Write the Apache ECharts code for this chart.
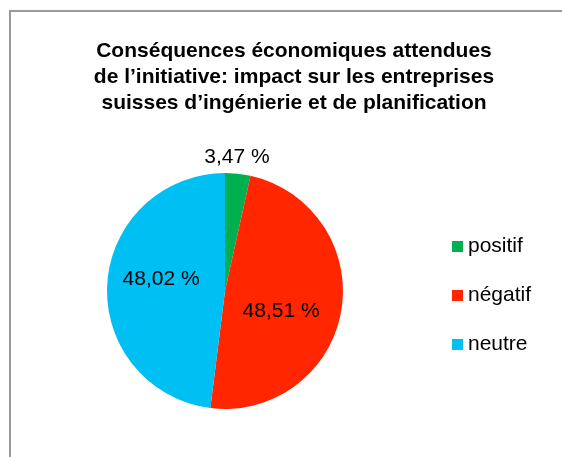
<!DOCTYPE html>
<html>
<head>
<meta charset="utf-8">
<script src="https://cdn.jsdelivr.net/npm/echarts@6/dist/echarts.min.js"></script>
<style>
  html, body { margin: 0; padding: 0; background: #fff; }
  #chart { width: 562px; height: 457px; }
</style>
</head>
<body>
<div id="chart"></div>
<script>
const categories = ['positif', 'négatif', 'neutre'];
const values = [3.47, 48.51, 48.02];
const colors = ['#00B050', '#FF2600', '#00BFF3'];
// small nudges so the value labels sit where the original places them
const labelOffsets = [[-39, -13], [-5, 10], [-2, -8]];

const chart = echarts.init(document.getElementById('chart'));

const fmt = (v) => v.toFixed(2).replace('.', ',') + ' %';

const data = categories.map((name, i) => {
  const item = { name: name, value: values[i], itemStyle: { color: colors[i] } };
  if (i === 0) {
    item.label = { position: 'outside', distance: 5, offset: labelOffsets[i] };
    item.labelLine = { show: false, length: 4, length2: 0 };
  } else {
    item.label = { position: 'inside', offset: labelOffsets[i] };
  }
  return item;
});

chart.setOption({
  animation: false,
  graphic: [{
    type: 'rect',
    shape: { x: 10, y: 11, width: 600, height: 500 },
    style: { fill: 'none', stroke: '#999', lineWidth: 2 }
  }],
  title: {
    text: 'Conséquences économiques attendues\nde l’initiative: impact sur les entreprises\nsuisses d’ingénierie et de planification',
    left: 289,
    top: 33,
    textAlign: 'center',
    textStyle: {
      fontFamily: 'Liberation Sans, Arial, sans-serif',
      fontSize: 21,
      fontWeight: 'bold',
      lineHeight: 26,
      color: '#000'
    }
  },
  legend: {
    orient: 'vertical',
    left: 447,
    top: 231,
    icon: 'rect',
    itemWidth: 11,
    itemHeight: 11,
    itemGap: 28,
    textStyle: { fontFamily: 'Liberation Sans, Arial, sans-serif', fontSize: 21, color: '#000' },
    data: categories
  },
  series: [{
    type: 'pie',
    center: [225, 291],
    radius: 118,
    startAngle: 90,
    clockwise: true,
    avoidLabelOverlap: false,
    label: {
      formatter: (p) => fmt(p.value),
      fontFamily: 'Liberation Sans, Arial, sans-serif',
      fontSize: 21,
      color: '#000'
    },
    labelLine: { show: false },
    emphasis: { disabled: true },
    data: data
  }]
});
</script>
</body>
</html>
